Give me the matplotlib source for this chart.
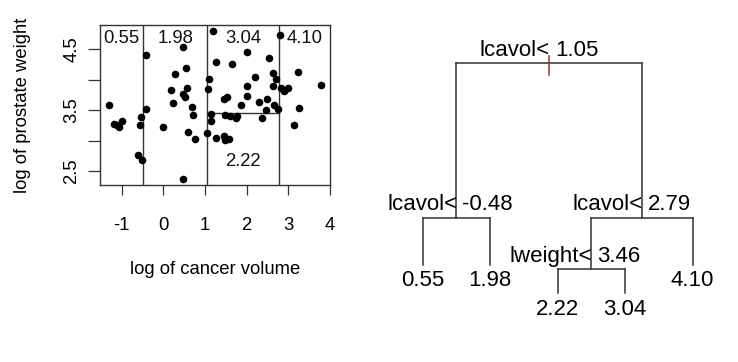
import matplotlib
matplotlib.use("Agg")
import matplotlib.pyplot as plt
import numpy as np

plt.rcParams['font.family'] = ['Liberation Sans', 'DejaVu Sans']

# ---------------- data ----------------
lcavol = [-1.32, -1.20, -1.12, -1.06, -1.00, -0.43, -0.53, -0.56, -0.42, -0.60,
          -0.51, 0.00, 0.46, 0.29, 0.55, 0.18, 0.56, 0.48, 0.52, 0.24,
          0.68, 0.71, 0.59, 0.77, 0.46, 1.18, 1.09, 1.06, 1.05, 1.15,
          1.15, 1.27, 1.27, 1.45, 1.53, 1.49, 1.61, 1.45, 1.48, 1.57,
          1.65, 1.78, 1.74, 1.86, 2.01, 2.01, 2.02, 2.20, 2.30, 2.38,
          2.47, 2.54, 2.50, 2.64, 2.71, 2.63, 2.66, 2.75, 2.81, 2.83,
          2.91, 2.99, 3.23, 3.27, 3.15, 3.80]
lweight = [3.59, 3.28, 3.26, 3.22, 3.32, 4.41, 3.38, 3.26, 3.52, 2.77,
           2.68, 3.22, 4.53, 4.10, 4.19, 3.83, 3.87, 3.76, 3.71, 3.62,
           3.55, 3.42, 3.15, 3.02, 2.37, 4.80, 4.01, 3.85, 3.13, 3.43,
           3.33, 4.29, 3.04, 3.69, 3.71, 3.42, 3.41, 3.08, 3.01, 3.03,
           4.26, 3.41, 3.37, 3.59, 4.45, 3.89, 3.74, 4.05, 3.64, 3.37,
           3.50, 4.36, 3.69, 4.11, 4.01, 3.90, 3.58, 3.52, 4.73, 3.87,
           3.82, 3.86, 4.12, 3.53, 3.26, 3.91]

x_ticks = [-1, 0, 1, 2, 3, 4]
y_ticks = [2.5, 3.0, 3.5, 4.0, 4.5]
y_ticklabels = ["2.5", "", "3.5", "", "4.5"]

# partition
cut_lcavol = [-0.48, 1.05, 2.79]
cut_lweight = 3.46
region_means = ["0.55", "1.98", "3.04", "4.10"]   # top labels, left to right
low_region_mean = "2.22"

# tree (rpart numbering)
split_var = {1: "lcavol", 2: "lcavol", 3: "lcavol", 6: "lweight"}
split_val = {1: "1.05", 2: "-0.48", 3: "2.79", 6: "3.46"}
leaf_val = {4: "0.55", 5: "1.98", 12: "2.22", 13: "3.04", 7: "4.10"}
node_height = {1: 230, 2: 75.6, 3: 75.6, 4: 28.3, 5: 28.3, 6: 24,
               7: 28.3, 12: 0, 13: 0}

# ---------------- figure ----------------
W, H = 738, 362
fig = plt.figure(figsize=(W / 100, H / 100), dpi=100)

ax = fig.add_axes([100 / W, (H - 185) / H, 230 / W, 160 / H])
xmin, xmax = min(lcavol), max(lcavol)
ymin, ymax = min(lweight), max(lweight)
xr, yr = xmax - xmin, ymax - ymin
ax.set_xlim(xmin - 0.04 * xr, xmax + 0.04 * xr)
ax.set_ylim(ymin - 0.04 * yr, ymax + 0.04 * yr)

ax.scatter(lcavol, lweight, s=30, c='black', linewidths=0, zorder=3)

for c in cut_lcavol:
    ax.axvline(c, color='#333333', lw=1.0)
ax.plot([cut_lcavol[1], cut_lcavol[2]], [cut_lweight, cut_lweight],
        color='#333333', lw=1.0)

x0, x1 = ax.get_xlim()
bounds = [x0] + cut_lcavol + [x1]
for i, lab in enumerate(region_means):
    xc = 0.5 * (bounds[i] + bounds[i + 1])
    ax.text(xc, 0.917, lab, transform=ax.get_xaxis_transform(),
            ha='center', va='center', fontsize=13.3, color='#111111')
ax.text(0.5 * (cut_lcavol[1] + cut_lcavol[2]), 0.146, low_region_mean,
        transform=ax.get_xaxis_transform(), ha='center', va='center',
        fontsize=13.3, color='#111111')

ax.set_xticks(x_ticks)
ax.set_xticklabels([str(t) for t in x_ticks])
ax.set_yticks(y_ticks)
ax.set_yticklabels(y_ticklabels, rotation=90, va='center')
ax.tick_params(axis='x', length=7.5, width=0.9, pad=15.5, labelsize=13.3,
               color='#333333')
ax.tick_params(axis='y', length=9, width=0.9, pad=5, labelsize=13.3,
               color='#333333')
for sp in ax.spines.values():
    sp.set_color('#333333')
    sp.set_linewidth(1.0)

ax.set_xlabel("log of cancer volume", fontsize=13.3, va='center')
ax.xaxis.set_label_coords(0.5, (185 - 269) / 160)
ax.set_ylabel("log of prostate weight", fontsize=13.3, va='center')
ax.yaxis.set_label_coords((23 - 100) / 230, 0.5)

# ---------------- tree ----------------
tx = fig.add_axes([370 / W, (H - 330) / H, 360 / W, 310 / H])
tx.set_axis_off()
tx.set_xlim(0.219, 5.553)
tx.set_ylim(-36.7, 273.3)

xpos = {}
counter = [0]


def place(n):
    if n in leaf_val:
        counter[0] += 1
        xpos[n] = counter[0]
    else:
        place(2 * n)
        place(2 * n + 1)
        xpos[n] = 0.5 * (xpos[2 * n] + xpos[2 * n + 1])


place(1)

lc = '#333333'
for n in split_var:
    l, r = 2 * n, 2 * n + 1
    yp = node_height[n]
    tx.plot([xpos[l], xpos[r]], [yp, yp], color=lc, lw=1.1)
    for ch in (l, r):
        tx.plot([xpos[ch], xpos[ch]], [yp, node_height[ch]], color=lc, lw=1.1)
    tx.annotate(split_var[n] + "<", (xpos[n], yp), xytext=(0.5, 9.5),
                textcoords='offset points', ha='right', va='center',
                fontsize=16)
    tx.annotate(split_val[n], (xpos[n], yp), xytext=(4.0, 9.5),
                textcoords='offset points', ha='left', va='center',
                fontsize=16)

for n, v in leaf_val.items():
    tx.annotate(v, (xpos[n], node_height[n]), xytext=(0, -11.5),
                textcoords='offset points', ha='center', va='center',
                fontsize=16)

# root stub
tx.plot([xpos[1], xpos[1]], [node_height[1] + 7.3, node_height[1] - 11.7],
        color='#8B3A2A', lw=1.1)

fig.savefig("out.png", dpi=100)
